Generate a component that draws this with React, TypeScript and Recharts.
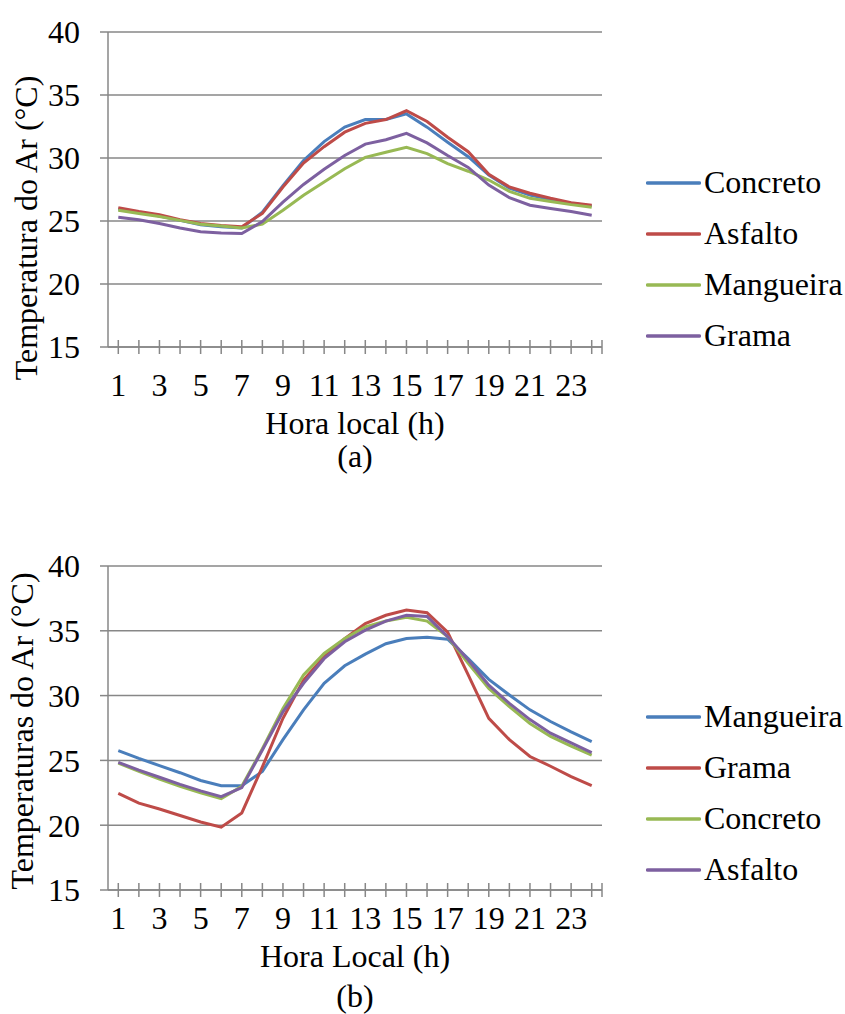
import { LineChart, Line, XAxis, YAxis, CartesianGrid, Legend } from 'recharts'

const hours = ['1','2','3','4','5','6','7','8','9','10','11','12','13','14','15','16','17','18','19','20','21','22','23','24']
const yTicks = [15, 20, 25, 30, 35, 40]

// (a)
const concretoA = [25.95,25.7,25.4,25.05,24.7,24.55,24.45,25.7,27.8,29.8,31.3,32.45,33.05,33.05,33.5,32.45,31.25,30.1,28.65,27.6,27.05,26.7,26.4,26.2]
const asfaltoA = [26.05,25.75,25.5,25.1,24.8,24.65,24.55,25.6,27.7,29.6,30.9,32.05,32.75,33.05,33.75,32.9,31.65,30.5,28.7,27.7,27.2,26.8,26.45,26.25]
const mangueiraA = [25.85,25.6,25.35,25.05,24.75,24.6,24.45,24.75,25.85,27.05,28.1,29.15,30.05,30.45,30.85,30.35,29.55,28.95,28.25,27.35,26.8,26.55,26.3,26.1]
const gramaA = [25.3,25.1,24.8,24.45,24.15,24.05,24.0,24.95,26.5,27.9,29.1,30.2,31.1,31.45,31.95,31.2,30.2,29.25,27.85,26.85,26.25,26.0,25.75,25.45]

// (b)
const mangueiraB = [25.75,25.15,24.6,24.05,23.45,23.05,23.05,24.15,26.6,28.9,30.95,32.3,33.2,34.0,34.4,34.5,34.35,32.85,31.25,30.05,28.9,28.0,27.2,26.45]
const gramaB = [22.45,21.7,21.25,20.75,20.25,19.85,20.95,24.5,28.25,31.2,33.0,34.4,35.55,36.2,36.6,36.4,34.9,31.6,28.25,26.6,25.3,24.55,23.75,23.05]
const concretoB = [24.8,24.15,23.55,23.0,22.5,22.05,23.0,25.9,29.0,31.6,33.25,34.4,35.3,35.75,36.05,35.75,34.55,32.5,30.55,29.15,27.85,26.85,26.1,25.4]
const asfaltoB = [24.85,24.25,23.7,23.15,22.65,22.2,22.9,25.8,28.75,30.95,32.85,34.15,35.05,35.75,36.2,36.1,34.55,32.75,30.8,29.4,28.15,27.1,26.35,25.6]

const BLUE = '#4A7EBB'
const RED = '#BE4B48'
const GREEN = '#98B954'
const PURPLE = '#7D60A0'
const GRID = '#878787'
const FONT = '"Liberation Serif", "Times New Roman", serif'
const FS = 32

const W = 845
const H = 480
const Y_AXIS_W = 108
const RIGHT = 243
const PLOT_W = W - Y_AXIS_W - RIGHT
const BAND = PLOT_W / hours.length

const toRows = (cols: Record<string, number[]>) =>
  hours.map((h, i) => {
    const row: any = { hour: h }
    Object.keys(cols).forEach(k => { row[k] = cols[k][i] })
    return row
  })

const dataA = toRows({ Concreto: concretoA, Asfalto: asfaltoA, Mangueira: mangueiraA, Grama: gramaA })
const dataB = toRows({ Mangueira: mangueiraB, Grama: gramaB, Concreto: concretoB, Asfalto: asfaltoB })

function HourTick(props: any){
  const { x, y, payload, index, labelDy } = props
  const n = Number(payload.value)
  return (
    <g>
      <line x1={x} x2={x} y1={y-7} y2={y+7} stroke={GRID} strokeWidth={1.5} />
      {index === hours.length - 1 && (
        <line x1={x+BAND/2} x2={x+BAND/2} y1={y-7} y2={y+7} stroke={GRID} strokeWidth={1.5} />
      )}
      {n % 2 === 1 && (
        <text x={x} y={y+labelDy} textAnchor="middle" fontFamily={FONT} fontSize={FS} fill="#000">{payload.value}</text>
      )}
    </g>
  )
}

function LegendBox({ items }: { items: { key: string, color: string }[] }){
  return (
    <div>
      {items.map(it => (
        <div key={it.key} style={{ display: 'flex', alignItems: 'center', height: 51 }}>
          <svg width={55} height={6} style={{ display: 'block' }}>
            <line x1={1.5} x2={53.5} y1={3} y2={3} stroke={it.color} strokeWidth={3.5} strokeLinecap="round" />
          </svg>
          <span style={{ marginLeft: 3, fontFamily: FONT, fontSize: FS, color: '#000', lineHeight: 1.15 }}>{it.key}</span>
        </div>
      ))}
    </div>
  )
}

type PanelProps = {
  data: any[]
  series: { key: string, color: string }[]
  yTitle: string
  yTitleX: number
  yTitleY: number
  xTitle: string
  caption: string
  xAxisH: number
  labelDy: number
  titleDy: number
  captionDy: number
}

function Panel(p: PanelProps){
  const plotBottom = H - p.xAxisH
  return (
    <LineChart width={W} height={H} data={p.data} margin={{ top: 32, right: RIGHT, left: 0, bottom: 0 }}>
      <CartesianGrid vertical={false} stroke={GRID} strokeWidth={1.5} />
      <XAxis
        dataKey="hour"
        interval={0}
        height={p.xAxisH}
        padding={{ left: BAND/2, right: BAND/2 }}
        tickSize={0}
        tickMargin={0}
        tickLine={false}
        axisLine={{ stroke: GRID, strokeWidth: 1.5 }}
        tick={(t: any) => <HourTick {...t} labelDy={p.labelDy} />}
        label={() => (
          <g>
            <text x={Y_AXIS_W + PLOT_W/2} y={plotBottom + p.titleDy} textAnchor="middle" fontFamily={FONT} fontSize={FS} fill="#000">{p.xTitle}</text>
            <text x={Y_AXIS_W + PLOT_W/2} y={plotBottom + p.captionDy} textAnchor="middle" fontFamily={FONT} fontSize={FS} fill="#000">{p.caption}</text>
          </g>
        )}
      />
      <YAxis
        width={Y_AXIS_W}
        domain={[15, 40]}
        ticks={yTicks}
        interval={0}
        allowDataOverflow
        tickSize={8}
        tickMargin={20}
        tickLine={{ stroke: GRID, strokeWidth: 1.5 }}
        axisLine={{ stroke: GRID, strokeWidth: 1.5 }}
        tick={{ fontFamily: FONT, fontSize: FS, fill: '#000' }}
        label={() => (
          <text transform={`translate(${p.yTitleX},${p.yTitleY}) rotate(-90)`} textAnchor="middle" fontFamily={FONT} fontSize={FS} fill="#000">{p.yTitle}</text>
        )}
      />
      <Legend
        layout="vertical"
        align="center"
        verticalAlign="middle"
        wrapperStyle={{ left: 646, top: 157, width: 199 }}
        content={() => <LegendBox items={p.series} />}
      />
      {p.series.map(s => (
        <Line key={s.key} type="linear" dataKey={s.key} stroke={s.color} strokeWidth={3} dot={false} activeDot={false} isAnimationActive={false} />
      ))}
    </LineChart>
  )
}

export default function App(){
  return (
    <div style={{ position: 'absolute', left: 0, top: 0, width: W, height: 1014, background: '#fff' }}>
      <div style={{ position: 'absolute', left: 0, top: 0 }}>
        <Panel
          data={dataA}
          series={[{ key: 'Concreto', color: BLUE }, { key: 'Asfalto', color: RED }, { key: 'Mangueira', color: GREEN }, { key: 'Grama', color: PURPLE }]}
          yTitle="Temperatura do Ar (°C)"
          yTitleX={37}
          yTitleY={228}
          xTitle="Hora local (h)"
          caption="(a)"
          xAxisH={133}
          labelDy={49}
          titleDy={87}
          captionDy={120}
        />
      </div>
      <div style={{ position: 'absolute', left: 0, top: 534 }}>
        <Panel
          data={dataB}
          series={[{ key: 'Mangueira', color: BLUE }, { key: 'Grama', color: RED }, { key: 'Concreto', color: GREEN }, { key: 'Asfalto', color: PURPLE }]}
          yTitle="Temperaturas do Ar (°C)"
          yTitleX={33}
          yTitleY={197}
          xTitle="Hora Local (h)"
          caption="(b)"
          xAxisH={124}
          labelDy={39}
          titleDy={77}
          captionDy={117}
        />
      </div>
    </div>
  )
}
